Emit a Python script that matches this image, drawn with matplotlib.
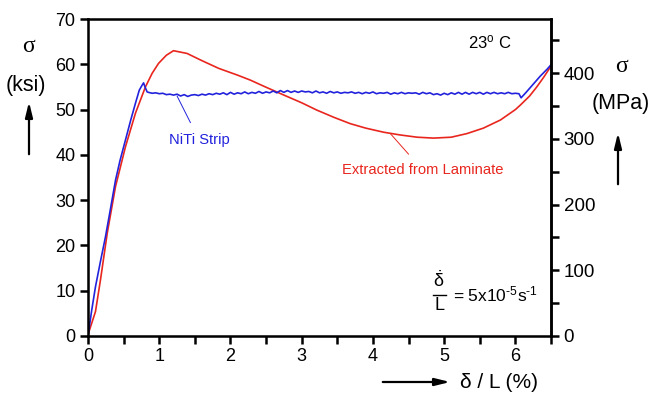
import matplotlib.pyplot as plt
from matplotlib.ticker import MultipleLocator

plt.rcParams['font.family'] = ['Liberation Sans', 'DejaVu Sans']
plt.rcParams['mathtext.fontset'] = 'custom'
plt.rcParams['mathtext.rm'] = 'Liberation Sans'
plt.rcParams['mathtext.it'] = 'Liberation Sans:italic'

# strain (%) and stress (ksi)
red_x = [0, 0.105, 0.175, 0.27, 0.386, 0.526, 0.666, 0.806, 0.9, 0.99, 1.1, 1.2,
         1.39, 1.6, 1.835, 2.1, 2.28, 2.49, 2.75, 3.0, 3.21, 3.45, 3.68, 3.9,
         4.15, 4.38, 4.62, 4.85, 5.1, 5.32, 5.55, 5.79, 6.0, 6.07, 6.2, 6.3,
         6.4, 6.5]
red_y = [0.3, 5.4, 12.4, 22.7, 33.0, 41.8, 49.2, 55.0, 58.0, 60.2, 62.0, 63.0,
         62.4, 60.8, 59.1, 57.6, 56.5, 55.0, 53.2, 51.5, 49.9, 48.3, 46.9, 45.9,
         45.0, 44.4, 43.9, 43.7, 43.9, 44.7, 45.9, 47.7, 50.0, 51.0, 53.0, 55.0,
         57.2, 59.6]

blue_x = [0, 0.05, 0.105, 0.175, 0.245, 0.32, 0.386, 0.45, 0.526, 0.6, 0.666,
          0.72, 0.76, 0.78, 0.80, 0.83,
          0.85, 0.90, 0.95, 1.00, 1.05, 1.10, 1.15, 1.20, 1.25, 1.30, 1.35,
          1.40, 1.45, 1.50, 1.55, 1.60, 1.65, 1.70, 1.75, 1.80, 1.85, 1.90,
          1.95, 2.00, 2.05, 2.10, 2.15, 2.20, 2.25, 2.30, 2.35, 2.40, 2.45,
          2.50, 2.55, 2.60, 2.65, 2.70, 2.75, 2.80, 2.85, 2.90, 2.95, 3.00,
          3.05, 3.10, 3.15, 3.20, 3.25, 3.30, 3.35, 3.40, 3.45, 3.50, 3.55,
          3.60, 3.65, 3.70, 3.75, 3.80, 3.85, 3.90, 3.95, 4.00, 4.05, 4.10,
          4.15, 4.20, 4.25, 4.30, 4.35, 4.40, 4.45, 4.50, 4.55, 4.60, 4.65,
          4.70, 4.75, 4.80, 4.85, 4.90, 4.95, 5.00, 5.05, 5.10, 5.15, 5.20,
          5.25, 5.30, 5.35, 5.40, 5.45, 5.50, 5.55, 5.60, 5.65, 5.70, 5.75,
          5.80, 5.85, 5.90, 5.95, 6.00, 6.05, 6.08, 6.15, 6.25, 6.35, 6.45,
          6.5]
blue_y = [0, 5.5, 10.9, 16.5, 21.9, 28.5, 34.4, 38.8, 43.3, 47.7, 51.4,
          54.3, 55.4, 55.9, 55.0, 53.9,
          53.8, 53.6, 53.7, 53.5, 53.6, 53.3, 53.4, 53.2, 53.4, 53.0, 53.3,
          52.9, 53.2, 53.3, 53.1, 53.4, 53.2, 53.5, 53.3, 53.6, 53.4, 53.7,
          53.3, 53.8, 53.4, 53.7, 53.5, 53.9, 53.5, 53.8, 53.6, 54.0, 53.6,
          53.9, 53.7, 54.1, 53.7, 54.2, 53.8, 54.2, 53.8, 54.1, 53.8, 54.1,
          53.9, 54.0, 53.7, 54.1, 53.7, 53.9, 53.6, 54.0, 53.7, 53.9, 53.6,
          53.8, 53.7, 53.9, 53.6, 53.8, 53.5, 53.8, 53.6, 53.9, 53.5, 53.7,
          53.6, 53.8, 53.4, 53.7, 53.5, 53.8, 53.5, 53.7, 53.6, 53.7, 53.4,
          53.8, 53.5, 53.7, 53.3, 53.5, 53.2, 53.6, 53.3, 53.7, 53.4, 53.8,
          53.4, 53.8, 53.4, 53.8, 53.5, 53.8, 53.4, 53.8, 53.5, 53.8, 53.5,
          53.7, 53.5, 53.8, 53.5, 53.6, 53.5, 52.6, 53.8, 55.6, 57.4, 59.0,
          59.9]

KSI_TO_MPA = 6.895

fig = plt.figure(figsize=(6.51, 3.97), dpi=100)
ax = fig.add_axes([0.1352, 0.1537, 0.7112, 0.7984])

ax.plot(red_x, red_y, color='#e8261e', lw=1.2)
ax.plot(blue_x, blue_y, color='#2222dd', lw=1.2)

ax.set_xlim(0, 6.5)
ax.set_ylim(0, 70)
ax.xaxis.set_major_locator(MultipleLocator(1))
ax.xaxis.set_minor_locator(MultipleLocator(0.5))
ax.yaxis.set_major_locator(MultipleLocator(10))
ax.tick_params(axis='both', which='both', direction='out', length=5.5, width=1.8,
               labelsize=13)
for s in ax.spines.values():
    s.set_linewidth(1.8)

ax2 = ax.twinx()
ax2.set_ylim(0, 70 * KSI_TO_MPA)
ax2.yaxis.set_major_locator(MultipleLocator(100))
ax2.yaxis.set_minor_locator(MultipleLocator(50))
ax2.tick_params(axis='y', which='both', direction='out', length=5.5, width=1.8,
                labelsize=13.5)
ax2.spines['right'].set_linewidth(1.8)

arrow = dict(arrowstyle='-|>,head_length=0.9,head_width=0.22', color='black', lw=1.6)

# left axis label
fig.text(28 / 651, 1 - 47 / 397, 'σ', fontsize=17, family='Liberation Serif',
         ha='center', va='center')
fig.text(26 / 651, 1 - 85 / 397, '(ksi)', fontsize=15.5, ha='center', va='center')
ax.annotate('', xy=(29 / 651, 1 - 99 / 397), xytext=(29 / 651, 1 - 157 / 397),
            xycoords='figure fraction', arrowprops=arrow)

# right axis label
fig.text(621 / 651, 1 - 66 / 397, 'σ', fontsize=17, family='Liberation Serif',
         ha='center', va='center')
fig.text(621 / 651, 1 - 103 / 397, '(MPa)', fontsize=15.5, ha='center', va='center')
ax.annotate('', xy=(618 / 651, 1 - 130 / 397), xytext=(618 / 651, 1 - 187 / 397),
            xycoords='figure fraction', arrowprops=arrow)

# x axis label
ax.annotate('', xy=(453 / 651, 1 - 382 / 397), xytext=(380 / 651, 1 - 382 / 397),
            xycoords='figure fraction', arrowprops=arrow)
fig.text(460 / 651, 1 - 382 / 397, 'δ / L (%)', fontsize=15, ha='left', va='center')

fig.text(490 / 651, 1 - 42 / 397, r'23$^\mathrm{o}$ C', fontsize=12,
         ha='center', va='center')

# strain rate note
fig.text(439 / 651, 1 - 281 / 397, r'$\mathrm{\dot{\delta}}$', fontsize=13,
         ha='center', va='center')
fig.text(439 / 651, 1 - 305 / 397, 'L', fontsize=13, ha='center', va='center')
fig.add_artist(plt.Line2D([433 / 651, 446 / 651], [1 - 295 / 397, 1 - 295 / 397],
                          color='black', lw=1.0))
fig.text(453 / 651, 1 - 294 / 397, r'= 5x10$^{\text{-5}}$s$^{\text{-1}}$',
         fontsize=12.5, ha='left', va='center')

# curve labels with leader lines
ax.annotate('NiTi Strip', xy=(1.25, 53.0), xytext=(1.56, 43.3),
            color='#2222dd', fontsize=10.6, ha='center', va='center',
            arrowprops=dict(arrowstyle='-', color='#2222dd', lw=0.7,
                            shrinkA=6, shrinkB=0))
ax.annotate('Extracted from Laminate', xy=(4.25, 44.6), xytext=(4.7, 36.6),
            color='#e8261e', fontsize=10.6, ha='center', va='center',
            arrowprops=dict(arrowstyle='-', color='#e8261e', lw=0.7,
                            shrinkA=6, shrinkB=0))

fig.savefig('out.png', dpi=100)
